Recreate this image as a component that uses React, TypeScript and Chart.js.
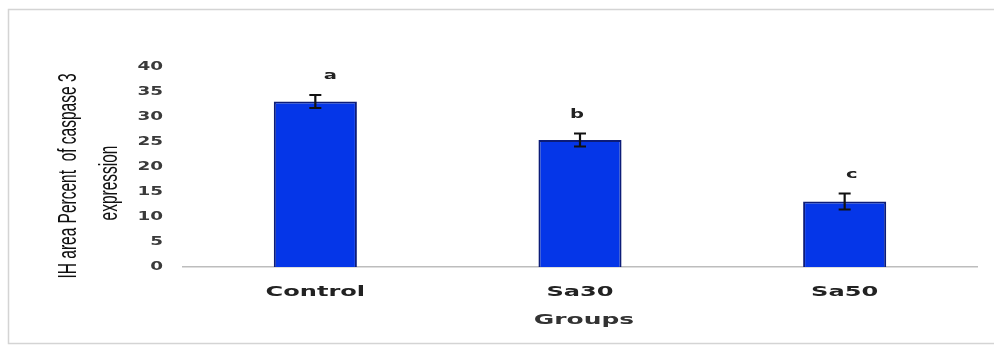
import React, { useEffect, useRef } from "react";
import { Chart, registerables } from "chart.js";

Chart.register(...registerables);

const categories = ["Control", "Sa30", "Sa50"];
const meanValues = [33.1, 25.4, 13.1];
const errorValues = [1.3, 1.3, 1.6];
const groupLetters = ["a", "b", "c"];
const yTickValues = [0, 5, 10, 15, 20, 25, 30, 35, 40];
const yTitleLines = ["IH area Percent  of caspase 3", "expression"];
const xTitle = "Groups";

const letterOffsetsX = [15, -3, 7];

function drawStretched(ctx: CanvasRenderingContext2D, text: string, x: number, y: number, font: string, color: string, sx: number, align: CanvasTextAlign, rotate = 0) {
  ctx.save();
  ctx.translate(x, y);
  ctx.scale(sx, 1);
  if (rotate) ctx.rotate(rotate);
  ctx.font = font;
  ctx.fillStyle = color;
  ctx.textAlign = align;
  ctx.textBaseline = "middle";
  ctx.fillText(text, 0, 0);
  ctx.restore();
}

const annotationPlugin = {
  id: "annotations",
  afterDatasetsDraw(chart: any) {
    const ctx = chart.ctx as CanvasRenderingContext2D;
    const xs = chart.scales.x;
    const ys = chart.scales.y;
    ctx.save();
    ctx.strokeStyle = "#111111";
    ctx.lineWidth = 2.2;
    meanValues.forEach((v, i) => {
      const x = xs.getPixelForValue(i);
      const yTop = ys.getPixelForValue(v + errorValues[i]);
      const yBot = ys.getPixelForValue(v - errorValues[i]);
      ctx.beginPath();
      ctx.moveTo(x, yTop);
      ctx.lineTo(x, yBot);
      ctx.moveTo(x - 6, yTop);
      ctx.lineTo(x + 6, yTop);
      ctx.moveTo(x - 6, yBot);
      ctx.lineTo(x + 6, yBot);
      ctx.stroke();
    });
    ctx.restore();
  },
  afterDraw(chart: any) {
    const ctx = chart.ctx as CanvasRenderingContext2D;
    const xs = chart.scales.x;
    const ys = chart.scales.y;
    const area = chart.chartArea;

    // outer frame
    ctx.save();
    ctx.strokeStyle = "#d4d4d4";
    ctx.lineWidth = 1.5;
    ctx.strokeRect(8.5, 9.5, 1100, 334);
    ctx.restore();

    // y tick labels
    yTickValues.forEach((v) => {
      drawStretched(ctx, String(v), area.left - 20, ys.getPixelForValue(v), 'bold 11.5px "DejaVu Sans"', "#3a3a3a", 1.6, "right");
    });

    // x tick labels
    categories.forEach((c, i) => {
      drawStretched(ctx, c, xs.getPixelForValue(i), area.bottom + 25, 'bold 14px "DejaVu Sans"', "#222222", 1.72, "center");
    });

    // x title
    drawStretched(ctx, xTitle, xs.getPixelForValue(1) + 4, area.bottom + 53, 'bold 14px "DejaVu Sans"', "#333333", 1.78, "center");

    // letters
    groupLetters.forEach((l, i) => {
      const y = ys.getPixelForValue(meanValues[i] + errorValues[i]) - 19;
      drawStretched(ctx, l, xs.getPixelForValue(i) + letterOffsetsX[i], y, 'bold 13px "DejaVu Sans"', "#222222", 1.5, "center");
    });

    // y title (rotated)
    drawStretched(ctx, yTitleLines[0], 69, 176, '15.5px "Liberation Sans"', "#111111", 1.7, "center", -Math.PI / 2);
    drawStretched(ctx, yTitleLines[1], 110, 183, '15.5px "Liberation Sans"', "#111111", 1.7, "center", -Math.PI / 2);
  },
};

export default function App() {
  const canvasRef = useRef<HTMLCanvasElement | null>(null);

  useEffect(() => {
    if (!canvasRef.current) return;
    const chart = new Chart(canvasRef.current, {
      type: "bar",
      data: {
        labels: categories,
        datasets: [
          {
            data: meanValues,
            backgroundColor: "#0536e8",
            borderColor: "#0c1c78",
            borderWidth: 2,
            barPercentage: 0.314,
            categoryPercentage: 1,
          },
        ],
      },
      options: {
        responsive: false,
        animation: false,
        layout: { padding: { left: 183, right: 17, top: 67, bottom: 79 } },
        plugins: { legend: { display: false }, tooltip: { enabled: false } },
        scales: {
          x: {
            display: true,
            ticks: { display: false },
            grid: { display: false, drawTicks: false },
            border: { display: true, color: "#bdbdbd", width: 1.5 },
          },
          y: {
            display: false,
            min: 0,
            max: 40,
            ticks: { stepSize: 5 },
          },
        },
      },
      plugins: [annotationPlugin],
    });
    return () => chart.destroy();
  }, []);

  return (
    <div style={{ position: "fixed", left: 0, top: 0, width: 994, height: 346, background: "#ffffff" }}>
      <canvas ref={canvasRef} width={994} height={346} style={{ width: 994, height: 346, display: "block" }} />
    </div>
  );
}
